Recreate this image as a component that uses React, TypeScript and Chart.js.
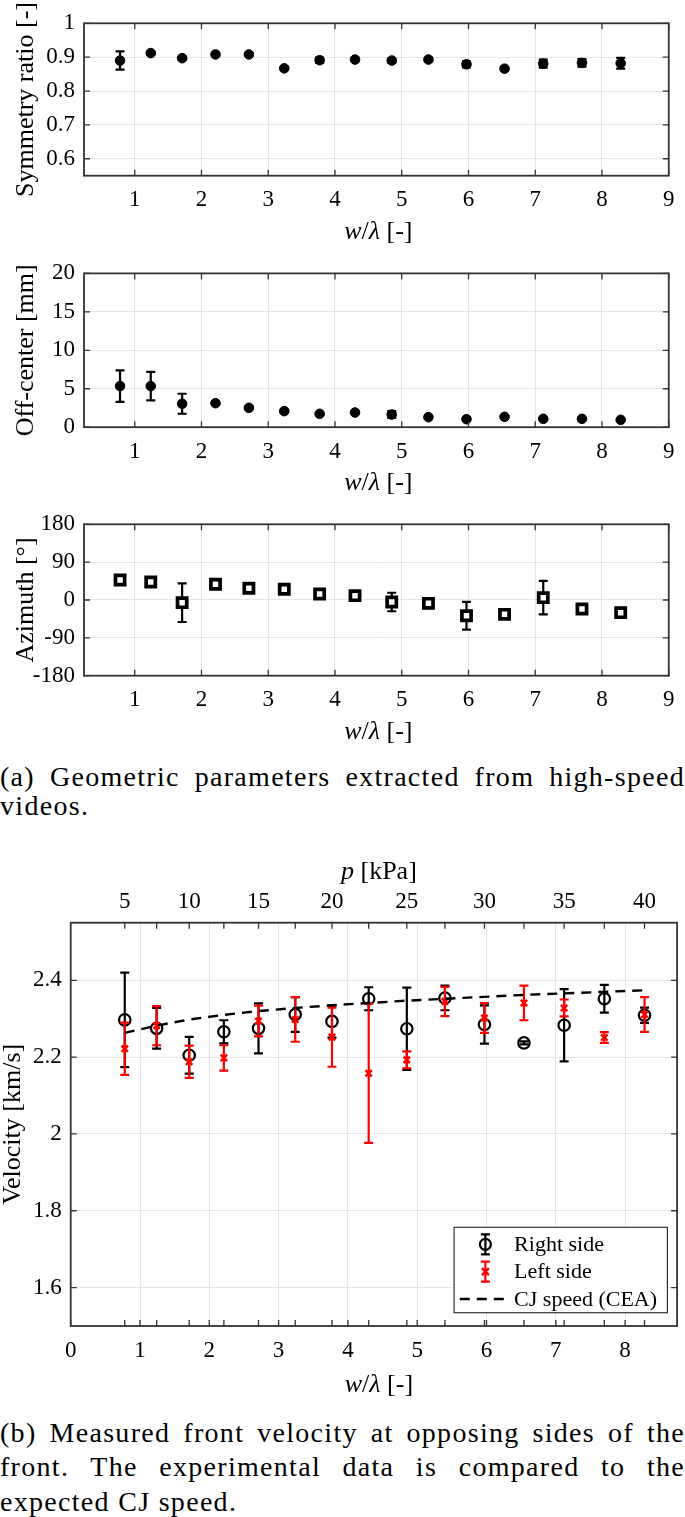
import React, { useEffect, useRef } from 'react';
import { Chart, registerables } from 'chart.js';

Chart.register(...registerables);

// ---------- data ----------
const xPos = [0.78, 1.24, 1.71, 2.21, 2.71, 3.24, 3.77, 4.3, 4.85, 5.4, 5.97, 6.54, 7.12, 7.7, 8.28];
const pressure = [5, 7.5, 10, 12.5, 15, 17.5, 20, 22.5, 25, 27.5, 30, 32.5, 35, 37.5, 40];

const symmetry = [0.89, 0.912, 0.897, 0.908, 0.908, 0.867, 0.891, 0.893, 0.89, 0.893, 0.879, 0.866, 0.881, 0.883, 0.882];
const symmetryErr = [0.027, 0.005, 0.004, 0.004, 0.004, 0.003, 0.008, 0.005, 0.006, 0.005, 0.009, 0.003, 0.012, 0.011, 0.016];

const offCenter = [5.35, 5.35, 3.05, 3.12, 2.52, 2.09, 1.74, 1.91, 1.65, 1.3, 1.04, 1.35, 1.09, 1.09, 0.96];
const offCenterErr = [2.05, 1.85, 1.3, 0.15, 0.15, 0.15, 0.15, 0.15, 0.45, 0.1, 0.1, 0.1, 0.1, 0.1, 0.1];

const azimuth = [47.6, 42.8, -6.3, 37.3, 27.8, 25.4, 14.3, 10.3, -4.8, -7.9, -37.3, -34.1, 5.6, -21.4, -30.1];
const azimuthErr = [3, 3, 46, 4, 4, 4, 5, 9, 22, 4, 33, 3, 40, 3, 3];

const rightVel = [2.297, 2.275, 2.205, 2.266, 2.275, 2.311, 2.293, 2.352, 2.274, 2.354, 2.285, 2.237, 2.283, 2.352, 2.309];
const rightErr = [0.123, 0.053, 0.048, 0.03, 0.065, 0.045, 0.042, 0.03, 0.107, 0.032, 0.05, 0.004, 0.094, 0.036, 0.02];
const leftVel = [2.222, 2.282, 2.188, 2.198, 2.294, 2.298, 2.252, 2.158, 2.193, 2.345, 2.302, 2.341, 2.328, 2.251, 2.311];
const leftErr = [0.068, 0.051, 0.042, 0.033, 0.04, 0.058, 0.077, 0.181, 0.022, 0.038, 0.039, 0.045, 0.022, 0.014, 0.045];
const cjSpeed = [2.263, 2.282, 2.298, 2.31, 2.32, 2.328, 2.335, 2.341, 2.347, 2.352, 2.357, 2.362, 2.366, 2.37, 2.374];

const geomXTicks = [1, 2, 3, 4, 5, 6, 7, 8, 9];
const symTicks = [0.6, 0.7, 0.8, 0.9, 1];
const offTicks = [0, 5, 10, 15, 20];
const azTicks = [-180, -90, 0, 90, 180];
const velXTicks = [0, 1, 2, 3, 4, 5, 6, 7, 8];
const velYTicks = [1.6, 1.8, 2, 2.2, 2.4];

// ---------- styling ----------
const FONT = '"Liberation Serif", "Times New Roman", serif';
const AXIS = '#333333';
const GRID = '#e6e6e6';

const errorBarPlugin = {
  id: 'errorBars',
  beforeDatasetDraw(chart: any, args: any) {
    const ds: any = chart.data.datasets[args.index];
    if (!ds.errors) return;
    const meta = args.meta;
    const ys = chart.scales[meta.yAxisID];
    const ctx = chart.ctx;
    ctx.save();
    ctx.strokeStyle = ds.errorColor || '#000';
    ctx.lineWidth = ds.errorWidth || 2;
    const cap = ds.errorCap || 4.5;
    meta.data.forEach((el: any, i: number) => {
      const p = ds.data[i];
      const e = ds.errors[i];
      const t = ys.getPixelForValue(p.y + e);
      const b = ys.getPixelForValue(p.y - e);
      const x = el.x;
      ctx.beginPath();
      ctx.moveTo(x, t);
      ctx.lineTo(x, b);
      ctx.moveTo(x - cap, t);
      ctx.lineTo(x + cap, t);
      ctx.moveTo(x - cap, b);
      ctx.lineTo(x + cap, b);
      ctx.stroke();
    });
    ctx.restore();
  },
};

const framePlugin = {
  id: 'frame',
  afterDatasetsDraw(chart: any, _a: any, opts: any) {
    const { ctx, chartArea } = chart;
    const { left, right, top, bottom } = chartArea;
    const xs = chart.scales.x;
    const ys = chart.scales.y;
    const L = opts.len ?? 6;
    ctx.save();
    ctx.strokeStyle = AXIS;
    ctx.lineWidth = 1.3;
    ctx.beginPath();
    (opts.bottom || []).forEach((v: number) => {
      const p = xs.getPixelForValue(v);
      ctx.moveTo(p, bottom);
      ctx.lineTo(p, bottom - L);
    });
    (opts.top || []).forEach((v: number) => {
      const p = xs.getPixelForValue(v);
      ctx.moveTo(p, top);
      ctx.lineTo(p, top + L);
    });
    (opts.left || []).forEach((v: number) => {
      const p = ys.getPixelForValue(v);
      ctx.moveTo(left, p);
      ctx.lineTo(left + L, p);
    });
    (opts.right || []).forEach((v: number) => {
      const p = ys.getPixelForValue(v);
      ctx.moveTo(right, p);
      ctx.lineTo(right - L, p);
    });
    ctx.stroke();
    ctx.lineWidth = 1.8;
    ctx.strokeRect(left, top, right - left, bottom - top);
    ctx.restore();
  },
};

type Seg = [string, boolean];
const mathTitlePlugin = {
  id: 'mathTitles',
  afterDraw(chart: any, _a: any, opts: any) {
    const { ctx, chartArea } = chart;
    (opts.items || []).forEach((it: any) => {
      const segs: Seg[] = it.segs;
      const fonts = segs.map(([, it2]) => `${it2 ? 'italic ' : ''}26px ${FONT}`);
      let total = 0;
      const widths = segs.map(([t], i) => {
        ctx.font = fonts[i];
        const w = ctx.measureText(t).width;
        total += w;
        return w;
      });
      const cx = (chartArea.left + chartArea.right) / 2 + (it.dx || 0);
      const y = it.anchor === 'top' ? chartArea.top + it.dy : chartArea.bottom + it.dy;
      let x = cx - total / 2;
      ctx.save();
      ctx.fillStyle = '#000';
      ctx.textBaseline = 'middle';
      ctx.textAlign = 'left';
      segs.forEach(([t], i) => {
        ctx.font = fonts[i];
        ctx.fillText(t, x, y);
        x += widths[i];
      });
      ctx.restore();
    });
  },
};

const legendPlugin = {
  id: 'errLegend',
  afterDraw(chart: any, _a: any, opts: any) {
    if (!opts.show) return;
    const { ctx, chartArea } = chart;
    const w = 213.3;
    const h = 85.4;
    const bx = chartArea.right - 9.7 - w;
    const by = chartArea.bottom - 13.3 - h;
    ctx.save();
    ctx.fillStyle = '#fff';
    ctx.fillRect(bx, by, w, h);
    ctx.strokeStyle = AXIS;
    ctx.lineWidth = 1.2;
    ctx.strokeRect(bx, by, w, h);
    const rows = [17, 44.4, 71.7];
    const sx = bx + 31.3;
    const drawBar = (y: number, color: string) => {
      ctx.strokeStyle = color;
      ctx.lineWidth = 2.2;
      ctx.beginPath();
      ctx.moveTo(sx, y - 10);
      ctx.lineTo(sx, y + 10);
      ctx.moveTo(sx - 4.5, y - 10);
      ctx.lineTo(sx + 4.5, y - 10);
      ctx.moveTo(sx - 4.5, y + 10);
      ctx.lineTo(sx + 4.5, y + 10);
      ctx.stroke();
    };
    let y = by + rows[0];
    drawBar(y, '#000');
    ctx.beginPath();
    ctx.arc(sx, y, 5.5, 0, Math.PI * 2);
    ctx.strokeStyle = '#000';
    ctx.lineWidth = 2.2;
    ctx.stroke();
    y = by + rows[1];
    drawBar(y, '#ff0000');
    ctx.lineWidth = 2.5;
    ctx.beginPath();
    ctx.moveTo(sx - 3.5, y - 3.5);
    ctx.lineTo(sx + 3.5, y + 3.5);
    ctx.moveTo(sx - 3.5, y + 3.5);
    ctx.lineTo(sx + 3.5, y - 3.5);
    ctx.stroke();
    y = by + rows[2];
    ctx.strokeStyle = '#000';
    ctx.lineWidth = 2.4;
    ctx.setLineDash([10, 7]);
    ctx.beginPath();
    ctx.moveTo(bx + 5.7, y);
    ctx.lineTo(bx + 55.7, y);
    ctx.stroke();
    ctx.setLineDash([]);
    ctx.fillStyle = '#000';
    ctx.font = `22px ${FONT}`;
    ctx.textBaseline = 'middle';
    ctx.textAlign = 'left';
    const labels = opts.labels as string[];
    labels.forEach((t, i) => ctx.fillText(t, bx + 60, by + rows[i] + 1));
    ctx.restore();
  },
};

const tickFont = { family: FONT, size: 23 };
const fmt = (v: number) => String(+Number(v).toFixed(2));

function xyData(xs: number[], ys: number[]) {
  return xs.map((x, i) => ({ x, y: ys[i] }));
}

function geomConfig(
  values: number[],
  errs: number[],
  yMin: number,
  yMax: number,
  yTicks: number[],
  yTitle: string,
  square: boolean,
  areaTop: number,
  areaBottom: number,
  canvasH: number
): any {
  return {
    type: 'scatter',
    data: {
      datasets: [
        {
          data: xyData(xPos, values),
          errors: errs,
          errorColor: '#000',
          errorCap: 4.5,
          errorWidth: 2.2,
          pointStyle: square ? 'rect' : 'circle',
          pointRadius: square ? 6.5 : 4.8,
          backgroundColor: square ? '#ffffff' : '#000000',
          borderColor: '#000000',
          borderWidth: square ? 3.7 : 1,
        },
      ],
    },
    options: {
      responsive: false,
      animation: false,
      events: [],
      layout: { padding: { top: areaTop, right: 6, left: 0, bottom: 0 } },
      scales: {
        x: {
          type: 'linear',
          min: 0.24,
          max: 9,
          afterBuildTicks: (s: any) => {
            s.ticks = geomXTicks.map((v) => ({ value: v }));
          },
          afterFit: (s: any) => {
            s.height = canvasH - areaBottom;
          },
          grid: { color: GRID, lineWidth: 1, drawTicks: false },
          border: { display: false },
          ticks: { font: tickFont, color: '#000', padding: 10.5, maxRotation: 0, autoSkip: false, callback: (v: any) => fmt(v) },
        },
        y: {
          type: 'linear',
          min: yMin,
          max: yMax,
          afterBuildTicks: (s: any) => {
            s.ticks = yTicks.map((v) => ({ value: v }));
          },
          afterFit: (s: any) => {
            s.width = 84;
          },
          grid: { color: GRID, lineWidth: 1, drawTicks: false },
          border: { display: false },
          ticks: { font: tickFont, color: '#000', padding: 9, autoSkip: false, callback: (v: any) => fmt(v) },
          title: {
            display: true,
            text: yTitle,
            color: '#000',
            font: { family: FONT, size: 26, lineHeight: 1 },
            padding: { top: 13, bottom: 0 },
          },
        },
      },
      plugins: {
        legend: { display: false },
        tooltip: { enabled: false },
        frame: { bottom: geomXTicks, top: geomXTicks, left: yTicks, right: yTicks, len: 6 },
        mathTitles: {
          items: [{ segs: [['w', true], ['/', false], ['λ', true], [' [-]', false]], anchor: 'bottom', dy: 56, dx: 2 }],
        },
        errLegend: { show: false },
      },
    },
    plugins: [errorBarPlugin, framePlugin, mathTitlePlugin, legendPlugin],
  };
}

function velocityConfig(canvasH: number): any {
  const areaTop = 82.7;
  const areaBottom = 486;
  return {
    type: 'scatter',
    data: {
      datasets: [
        {
          label: 'Right side',
          order: 3,
          data: xyData(xPos, rightVel),
          errors: rightErr,
          errorColor: '#000',
          errorCap: 4.5,
          errorWidth: 2.2,
          pointStyle: 'circle',
          pointRadius: 5.7,
          backgroundColor: 'rgba(0,0,0,0)',
          borderColor: '#000',
          borderWidth: 2.2,
        },
        {
          label: 'Left side',
          order: 2,
          data: xyData(xPos, leftVel),
          errors: leftErr,
          errorColor: '#ff0000',
          errorCap: 4.5,
          errorWidth: 2.2,
          pointStyle: 'crossRot',
          pointRadius: 4.5,
          backgroundColor: '#ff0000',
          borderColor: '#ff0000',
          borderWidth: 2.5,
        },
        {
          label: 'CJ speed (CEA)',
          order: 1,
          data: xyData(xPos, cjSpeed),
          showLine: true,
          borderColor: '#000',
          borderWidth: 2.4,
          borderDash: [10, 7],
          pointRadius: 0,
          fill: false,
        },
      ],
    },
    options: {
      responsive: false,
      animation: false,
      events: [],
      layout: { padding: { top: 0, right: 6, left: 0, bottom: 0 } },
      scales: {
        x: {
          type: 'linear',
          position: 'bottom',
          min: 0,
          max: 8.75,
          afterBuildTicks: (s: any) => {
            s.ticks = velXTicks.map((v) => ({ value: v }));
          },
          afterFit: (s: any) => {
            s.height = canvasH - areaBottom;
          },
          grid: { color: GRID, lineWidth: 1, drawTicks: false },
          border: { display: false },
          ticks: { font: tickFont, color: '#000', padding: 11.5, maxRotation: 0, autoSkip: false, callback: (v: any) => fmt(v) },
        },
        x2: {
          type: 'linear',
          position: 'top',
          min: 0,
          max: 8.75,
          afterBuildTicks: (s: any) => {
            s.ticks = xPos.map((v) => ({ value: v }));
          },
          afterFit: (s: any) => {
            s.height = areaTop;
          },
          grid: { display: false, drawTicks: false },
          border: { display: false },
          ticks: {
            font: tickFont,
            color: '#000',
            padding: 7,
            maxRotation: 0,
            autoSkip: false,
            callback: (_v: any, i: number) => (pressure[i] % 5 === 0 ? String(pressure[i]) : ''),
          },
        },
        y: {
          type: 'linear',
          min: 1.5,
          max: 2.55,
          afterBuildTicks: (s: any) => {
            s.ticks = velYTicks.map((v) => ({ value: v }));
          },
          afterFit: (s: any) => {
            s.width = 70.7;
          },
          grid: { color: GRID, lineWidth: 1, drawTicks: false },
          border: { display: false },
          ticks: { font: tickFont, color: '#000', padding: 9, autoSkip: false, callback: (v: any) => fmt(v) },
          title: {
            display: true,
            text: 'Velocity [km/s]',
            color: '#000',
            font: { family: FONT, size: 26, lineHeight: 1 },
            padding: { top: 0, bottom: 0 },
          },
        },
      },
      plugins: {
        legend: { display: false },
        tooltip: { enabled: false },
        frame: { bottom: [...velXTicks, ...xPos], top: xPos, left: velYTicks, right: velYTicks, len: 6 },
        mathTitles: {
          items: [
            { segs: [['w', true], ['/', false], ['λ', true], [' [-]', false]], anchor: 'bottom', dy: 59, dx: 5 },
            { segs: [['p', true], [' [kPa]', false]], anchor: 'top', dy: -51, dx: 5 },
          ],
        },
        errLegend: { show: true, labels: ['Right side', 'Left side', 'CJ speed (CEA)'] },
      },
    },
    plugins: [errorBarPlugin, framePlugin, mathTitlePlugin, legendPlugin],
  };
}

function ChartCanvas({ top, height, build }: { top: number; height: number; build: () => any }) {
  const ref = useRef<HTMLCanvasElement | null>(null);
  useEffect(() => {
    if (!ref.current) return;
    const chart = new Chart(ref.current, build());
    return () => chart.destroy();
  }, []);
  return (
    <canvas
      ref={ref}
      width={685}
      height={height}
      style={{ position: 'absolute', left: 0, top, width: 685, height }}
    />
  );
}

const CAP_FONT = 28;
function CaptionLine({ top, text, justify }: { top: number; text: string; justify: boolean }) {
  return (
    <div
      style={{
        position: 'absolute',
        left: 0,
        top,
        width: 685,
        height: 34,
        lineHeight: '34px',
        fontSize: CAP_FONT,
        fontFamily: FONT,
        color: '#000',
        letterSpacing: '1.3px',
        textAlign: justify ? 'justify' : 'left',
        textAlignLast: justify ? 'justify' : 'left',
        whiteSpace: 'normal',
      } as any}
    >
      {text}
    </div>
  );
}

export default function App() {
  return (
    <div style={{ position: 'absolute', left: 0, top: 0, width: 685, height: 1517, background: '#fff', overflow: 'hidden' }}>
      <ChartCanvas
        top={0}
        height={250}
        build={() => geomConfig(symmetry, symmetryErr, 0.55, 1, symTicks, 'Symmetry ratio [-]', false, 23.3, 175.7, 250)}
      />
      <ChartCanvas
        top={250}
        height={250}
        build={() => geomConfig(offCenter, offCenterErr, 0, 20, offTicks, 'Off-center [mm]', false, 23.4, 177.2, 250)}
      />
      <ChartCanvas
        top={500}
        height={250}
        build={() => geomConfig(azimuth, azimuthErr, -180, 180, azTicks, 'Azimuth [°]', true, 24.3, 175.7, 250)}
      />
      <CaptionLine top={759.5} text="(a) Geometric parameters extracted from high-speed" justify />
      <CaptionLine top={789} text="videos." justify={false} />
      <ChartCanvas top={840} height={560} build={() => velocityConfig(560)} />
      <CaptionLine top={1416.3} text="(b) Measured front velocity at opposing sides of the" justify />
      <CaptionLine top={1450.3} text="front. The experimental data is compared to the" justify />
      <CaptionLine top={1485.3} text="expected CJ speed." justify={false} />
    </div>
  );
}
